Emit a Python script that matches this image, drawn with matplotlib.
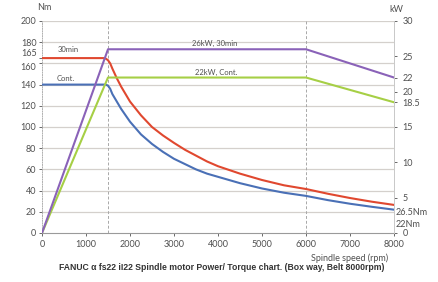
import matplotlib

matplotlib.use("Agg")
import matplotlib.pyplot as plt

# torque curves (Nm) vs spindle speed (rpm)
speed_30min = [0, 1400, 1450, 1500, 1550, 1600, 1700, 1800, 2000, 2250, 2500, 2750, 3000, 3250, 3500, 3750,
               4000, 4500, 5000, 5500, 6000, 6500, 7000, 7500, 8000]
torque_30min = [165, 165, 164.5, 163, 160, 155, 146, 138, 124, 111, 100, 92, 85, 78.5, 73, 67.5,
                63, 56, 50, 45, 41.5, 37, 33, 29.5, 26.5]
speed_cont = [0, 1450, 1500, 1550, 1600, 1700, 1800, 2000, 2250, 2500, 2750, 3000, 3250, 3500, 3750,
              4000, 4500, 5000, 5500, 6000, 6500, 7000, 7500, 8000]
torque_cont = [140, 140, 139, 136, 131, 124, 117, 105, 93, 84, 76.5, 70, 65, 60, 56,
               53, 47, 42, 38, 35, 31, 27.6, 24.7, 22]

# power curves (kW)
speed_power = [0, 1500, 6000, 8000]
power_30min = [0, 26, 26, 22]
power_cont = [0, 22, 22, 18.5]

left_ticks = [0, 20, 40, 60, 80, 100, 120, 140, 160, 165, 180, 200]
right_ticks = [0, 5, 10, 15, 18.5, 20, 22, 25, 30]
right_tick_labels = ["0", "5", "10", "15", "18.5", "20", "22", "25", "30"]
x_ticks = [0, 1000, 2000, 3000, 4000, 5000, 6000, 7000, 8000]

RED = "#e0482f"
BLUE = "#4a70b6"
PURPLE = "#8a62b8"
GREEN = "#a6cf45"
GRID = "#d4d0cc"
TEXT = "#505050"

plt.rcParams["font.family"] = ["Lato", "DejaVu Sans"]

fig = plt.figure(figsize=(4.39, 2.82), dpi=100)
ax = fig.add_axes([42 / 439, 1 - 233 / 282, 352 / 439, 212 / 282])
ax2 = ax.twinx()

for y in range(20, 201, 20):
    ax.axhline(y, color=GRID, linewidth=0.9, zorder=0)
for x in (1500, 6000):
    ax.axvline(x, color="#a8a8a8", linewidth=0.7, linestyle=(0, (3, 2)), zorder=0)

ax.plot(speed_cont, torque_cont, color=BLUE, linewidth=1.5, zorder=3, solid_joinstyle="round")
ax.plot(speed_30min, torque_30min, color=RED, linewidth=1.5, zorder=3, solid_joinstyle="round")
ax2.plot(speed_power, power_cont, color=GREEN, linewidth=1.5, zorder=3)
ax2.plot(speed_power, power_30min, color=PURPLE, linewidth=1.5, zorder=3)

ax.set_xlim(0, 8000)
ax.set_ylim(0, 200)
ax2.set_ylim(0, 30)

ax.set_xticks(x_ticks)
ax.set_yticks(left_ticks)
ax2.set_yticks(right_ticks)
ax2.set_yticklabels(right_tick_labels)

ax.tick_params(axis="both", labelsize=6.5, colors=TEXT, length=2, width=0.6, direction="out", pad=2)
ax.tick_params(axis="x", pad=3)
ax2.tick_params(axis="y", labelsize=6.5, colors=TEXT, length=2, width=0.6, pad=4)

# nudge the 165 label up a touch so it sits above 160 like the original
for label, value in zip(ax.get_yticklabels(), left_ticks):
    if value == 165:
        label.set_va("bottom")
    elif value == 160:
        label.set_va("top")

ax.spines["top"].set_visible(False)
ax2.spines["top"].set_visible(False)
ax.spines["left"].set_color("#b0b0b0")
ax.spines["left"].set_linestyle((0, (1, 1.5)))
ax.spines["left"].set_linewidth(0.7)
ax.spines["bottom"].set_color("#9a9a9a")
ax.spines["bottom"].set_linewidth(0.8)
ax2.spines["right"].set_color("#c8c8c8")
ax2.spines["right"].set_linewidth(0.7)
ax2.spines["left"].set_visible(False)
ax2.spines["bottom"].set_visible(False)
ax.spines["right"].set_visible(False)

ax.text(590, 173, "30min", fontsize=5.5, color=TEXT, ha="center", va="center")
ax.text(545, 146, "Cont.", fontsize=5.5, color=TEXT, ha="center", va="center")
ax.text(3930, 179, "26kW, 30min", fontsize=5.5, color=TEXT, ha="center", va="center")
ax.text(3950, 151, "22kW, Cont.", fontsize=5.5, color=TEXT, ha="center", va="center")

ax2.text(1.004, 21 / 213, "26.5Nm", transform=ax2.transAxes, fontsize=6.5, color=TEXT, ha="left", va="center")
ax2.text(1.004, 9 / 213, "22Nm", transform=ax2.transAxes, fontsize=6.5, color=TEXT, ha="left", va="center")

fig.text(44 / 439, 1 - 7 / 282, "Nm", fontsize=6.5, color=TEXT, ha="center", va="center")
fig.text(396 / 439, 1 - 9 / 282, "kW", fontsize=6.5, color=TEXT, ha="center", va="center")
fig.text(350 / 439, 1 - 258 / 282, "Spindle speed (rpm)", fontsize=6.5, color=TEXT, ha="center", va="center")
fig.text(222 / 439, 1 - 268 / 282,
         "FANUC \u03b1 fs22 iI22 Spindle motor Power/ Torque chart. (Box way, Belt 8000rpm)",
         fontsize=6.2, fontweight="bold", color="#333333", ha="center", va="center",
         family=["Liberation Sans", "DejaVu Sans"])

fig.savefig("out.png", dpi=100, facecolor="white")
